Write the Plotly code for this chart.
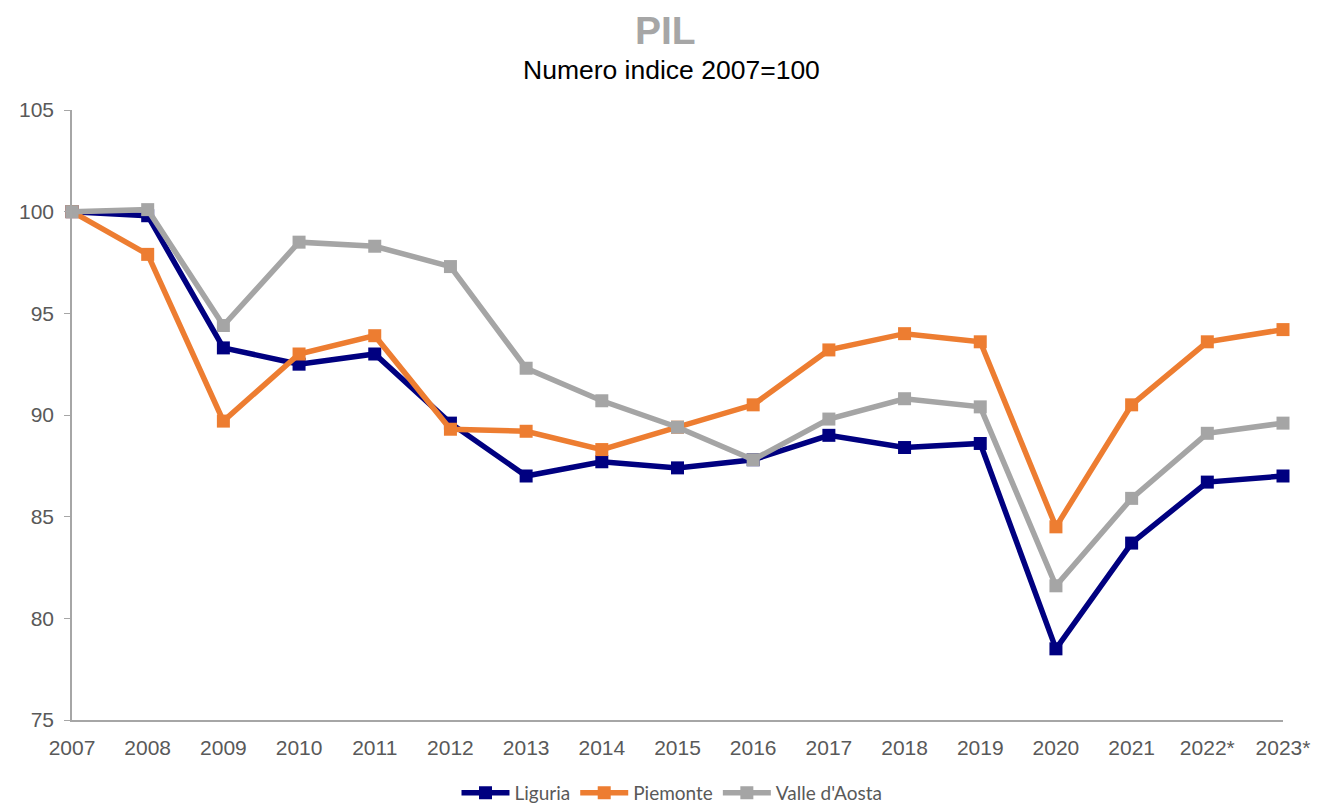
import plotly.graph_objects as go

years = ["2007", "2008", "2009", "2010", "2011", "2012", "2013", "2014", "2015",
         "2016", "2017", "2018", "2019", "2020", "2021", "2022*", "2023*"]
liguria = [100.0, 99.8, 93.3, 92.5, 93.0, 89.6, 87.0, 87.7, 87.4, 87.8, 89.0, 88.4,
           88.6, 78.5, 83.7, 86.7, 87.0]
piemonte = [100.0, 97.9, 89.7, 93.0, 93.9, 89.3, 89.2, 88.3, 89.4, 90.5, 93.2, 94.0,
            93.6, 84.5, 90.5, 93.6, 94.2]
valle = [100.0, 100.1, 94.4, 98.5, 98.3, 97.3, 92.3, 90.7, 89.4, 87.8, 89.8, 90.8,
         90.4, 81.6, 85.9, 89.1, 89.6]

series = [("Liguria", liguria, "#000080"),
          ("Piemonte", piemonte, "#ED7D31"),
          ("Valle d'Aosta", valle, "#A5A5A5")]

fig = go.Figure()
for name, vals, col in series:
    fig.add_trace(go.Scatter(
        x=years, y=vals, name=name, mode="lines+markers",
        line=dict(color=col, width=5.5),
        marker=dict(symbol="square", size=13, color=col),
        cliponaxis=False,
    ))

# page has an 8px body margin: figure is offset by 8px right/down
H = 610.0
W = 1211.0
fig.update_layout(
    width=1311, height=798,
    margin=dict(l=64, r=36, t=102, b=86, autoexpand=False),
    plot_bgcolor="white", paper_bgcolor="white",
    font=dict(family="Liberation Sans, Arial", color="#595959", size=21),
    showlegend=True,
    legend=dict(orientation="h", x=(672 - 72) / W, xanchor="center",
                y=(720 - 793) / H, yanchor="middle",
                font=dict(family="Lato, Open Sans", size=19, color="#595959"),
                itemwidth=48, tracegroupgap=0),
    annotations=[
        dict(text="<b>PIL</b>", xref="paper", yref="paper", x=(665 - 72) / W,
             y=(720 - 8) / H, xanchor="center", yanchor="top", borderpad=0,
             showarrow=False, font=dict(size=39, color="#A6A6A6", family="Liberation Sans, Arial")),
        dict(text="Numero indice 2007=100", xref="paper", yref="paper", x=(671 - 72) / W,
             y=(720 - 70) / H, xanchor="center", yanchor="middle",
             showarrow=False, font=dict(size=26.5, color="#000000", family="Liberation Sans, Arial")),
    ],
)
fig.update_xaxes(
    type="category", range=[0, 16], showgrid=False, zeroline=False, automargin=False,
    showline=True, linecolor="#A6A6A6", linewidth=1.5,
    ticks="", ticklabelstandoff=8, tickfont=dict(size=21, color="#595959"),
)
fig.update_yaxes(
    range=[75, 105], dtick=5, showgrid=False, zeroline=False, automargin=False,
    showline=True, linecolor="#A6A6A6", linewidth=1.5,
    ticks="outside", ticklen=6, tickcolor="#A6A6A6", ticklabelstandoff=6,
    tickfont=dict(size=21, color="#595959"),
)
fig.write_html("out.html")
